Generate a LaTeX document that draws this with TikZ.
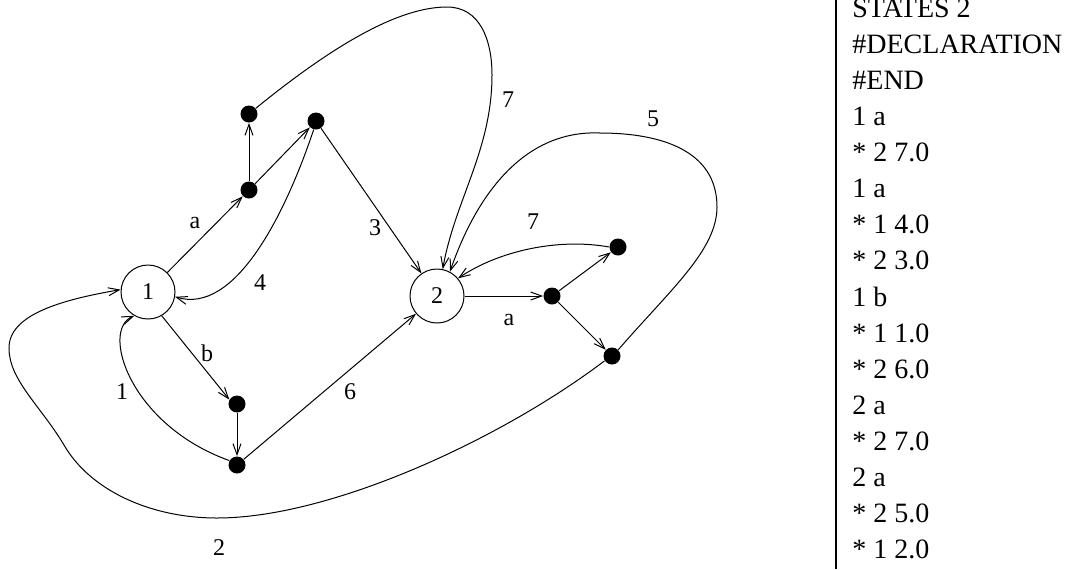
\documentclass[tikz,border=0pt]{standalone}
\usepackage{fontspec}
\setmainfont{Liberation Serif}
\usetikzlibrary{arrows.meta}

\begin{document}
\begin{tikzpicture}[
    x=0.5pt, y=-0.5pt,
    state/.style={circle, draw, line width=0.5pt, minimum size=27pt, inner sep=0pt, font=\fontsize{12}{14}\selectfont},
    dot/.style={circle, fill, minimum size=8.5pt, inner sep=0pt},
    edge/.style={-{Straight Barb[length=5.5pt,width=4pt]}, line width=0.5pt},
    lbl/.style={font=\fontsize{12}{14}\selectfont, inner sep=0pt},
    listline/.style={anchor=base west, inner sep=0pt, font=\fontsize{14}{18}\selectfont}
  ]
  \useasboundingbox (0,0) rectangle (1076,569);

  % states and intermediate points
  \node[state] (n1) at (148,292) {1};
  \node[state] (n2) at (437,296) {2};
  \node[dot] (da) at (249,190) {};
  \node[dot] (dtop) at (249,114) {};
  \node[dot] (dmid) at (316,121) {};
  \node[dot] (db1) at (237,404) {};
  \node[dot] (db2) at (237,465) {};
  \node[dot] (d2a) at (552,296) {};
  \node[dot] (d2up) at (618,247) {};
  \node[dot] (d2down) at (612,356) {};

  % transitions
  \draw[edge] (n1) -- (da);
  \draw[edge] (da) -- (dtop);
  \draw[edge] (da) -- (dmid);
  \draw[edge] (dmid) -- (n2);
  \draw[edge] (n1.-60) -- (db1.150);
  \draw[edge] (db1) -- (db2);
  \draw[edge] (db2) -- (n2);
  \draw[edge] (n2) -- (d2a);
  \draw[edge] (d2a) -- (d2up);
  \draw[edge] (d2a) -- (d2down);

  \draw[edge] (dtop.40) .. controls (336,43) and (400,7) .. (447,7)
    .. controls (480,7) and (492,40) .. (492,75)
    .. controls (492,150) and (455,200) .. (n2.78);
  \draw[edge] (dmid.-105) .. controls (285,215) and (235,315) .. (n1.-10);
  \draw[edge] (db2.150) .. controls (130,425) and (100,330) .. (n1.-120);
  \draw[edge] (d2up.180) .. controls (560,238) and (500,250) .. (n2.40);
  \draw[edge] (d2down.45) .. controls (670,290) and (717,250) .. (717,207)
    .. controls (717,150) and (660,133) .. (600,133)
    .. controls (530,130) and (480,185) .. (n2.62);
  \draw[edge] (d2down.-147) .. controls (500,440) and (330,518) .. (217,518)
    .. controls (150,518) and (90,490) .. (64,445)
    .. controls (40,405) and (9,380) .. (9,348)
    .. controls (9,315) and (60,300) .. (n1.175);

  % labels
  \node[lbl] (la) at (195,223) {a};
  \node[lbl] (lb) at (207,353) {b};
  \node[lbl] (l3) at (375,228) {3};
  \node[lbl] (l4) at (260,283) {4};
  \node[lbl] (l1) at (122,392) {1};
  \node[lbl] (l6) at (350,392) {6};
  \node[lbl] (l7a) at (508,100) {7};
  \node[lbl] (l7b) at (533,222) {7};
  \node[lbl] (l5) at (653,119) {5};
  \node[lbl] (l2a) at (509,320) {a};
  \node[lbl] (l2) at (219,548) {2};

  % listing
  \draw[line width=1.1pt] (836,0) -- (836,569);
  \foreach \txt [count=\i from 0] in {STATES 2, \#DECLARATION, \#END, 1 a, * 2 7.0, 1 a, * 1 4.0, * 2 3.0, 1 b, * 1 1.0, * 2 6.0, 2 a, * 2 7.0, 2 a, * 2 5.0, * 1 2.0}
    \node[listline] (line\i) at (852,17+36.13*\i) {\txt};
\end{tikzpicture}
\end{document}
